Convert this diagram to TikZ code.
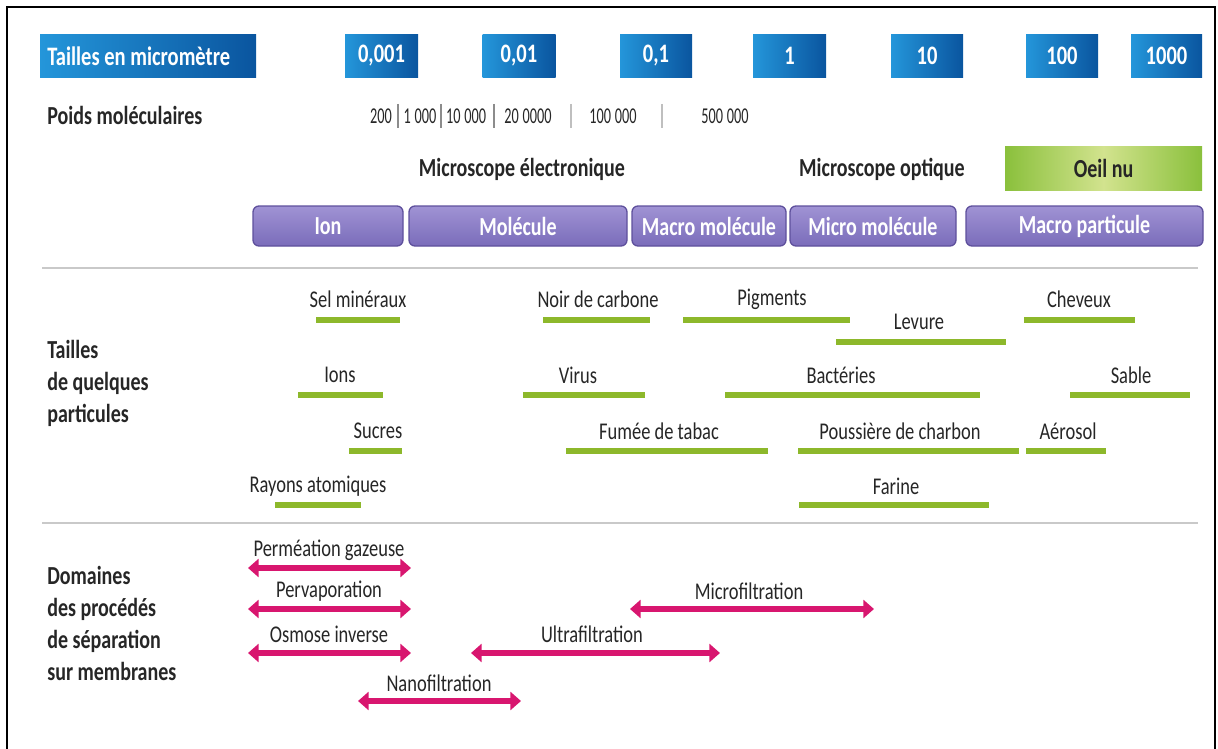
\documentclass[tikz,border=0pt]{standalone}
\usepackage{fontspec}
\setmainfont{Carlito}[FakeStretch=0.77]
\newfontfamily\numfont{Carlito}[FakeStretch=0.63]
\usetikzlibrary{arrows.meta}

\definecolor{ink}{HTML}{262626}
\definecolor{blueL}{HTML}{2496DA}
\definecolor{blueD}{HTML}{0A559F}
\definecolor{greenL}{HTML}{D2E38E}
\definecolor{greenD}{HTML}{8AC03C}
\definecolor{purpT}{HTML}{A093D4}
\definecolor{purpB}{HTML}{7A6CBA}
\definecolor{purpE}{HTML}{5E509C}
\definecolor{barG}{HTML}{8DB82B}
\definecolor{magenta}{HTML}{D8166F}
\definecolor{sepG}{HTML}{C9C9C9}

\tikzset{
  pxw/.style={minimum width=#1*0.75pt},
  pxh/.style={minimum height=#1*0.75pt},
  bluebox/.style={inner sep=0pt, pxh=43, left color=blueL, right color=blueD,
    text=white, font=\bfseries\fontsize{20}{22}\selectfont},
  purplebox/.style={inner sep=0pt, pxh=40, rounded corners=4.5pt,
    top color=purpT, bottom color=purpB, draw=purpE, line width=1pt,
    text=white, font=\bfseries\fontsize{19.5}{22}\selectfont},
  eyebox/.style={inner sep=0pt, pxh=44, left color=greenD, right color=greenD,
    middle color=greenL, text=ink, font=\bfseries\fontsize{19.5}{22}\selectfont},
  heading/.style={text=ink, inner sep=0pt, font=\bfseries\fontsize{19.5}{24}\selectfont},
  lbl/.style={text=ink, inner sep=0pt, font=\fontsize{18}{20}\selectfont},
  num/.style={text=ink, inner sep=0pt, font=\numfont\fontsize{17}{18}\selectfont},
  gbar/.style={draw=barG, line width=4.5pt},
  twoway/.style={draw=magenta, line width=3.8pt,
    {Triangle[length=8pt,width=13.5pt]}-{Triangle[length=8pt,width=13.5pt]}},
  seprule/.style={draw=sepG, line width=2pt},
  tick/.style={line width=0.8pt}
}

\begin{document}
\begin{tikzpicture}[x=0.75pt,y=-0.75pt]
\useasboundingbox (0,0) rectangle (1218,749);

% outer frame, open at the bottom
\draw[line width=2.2pt] (7,749) -- (7,7) -- (1215,7) -- (1215,749);

% size scale in micrometres
\node[bluebox, pxw=216] (scalebox) at (148,56) {};
\node[inner sep=0pt, text=white, font=\bfseries\fontsize{20}{22}\selectfont, anchor=west]
  (scale) at (47,56) {Tailles en micromètre};
\node[bluebox, pxw=73] (s1) at (381.5,56) {0,001};
\node[bluebox, pxw=73] (s2) at (519,56) {0,01};
\node[bluebox, pxw=72] (s3) at (656,56) {0,1};
\node[bluebox, pxw=73] (s4) at (789.5,56) {1};
\node[bluebox, pxw=72] (s5) at (927,56) {10};
\node[bluebox, pxw=72] (s6) at (1062,56) {100};
\node[bluebox, pxw=71] (s7) at (1166.5,56) {1000};

% molecular weights
\node[heading, anchor=west] (mw) at (47,115) {Poids moléculaires};
\node[num] (m1) at (381,116) {200};
\node[num] (m2) at (420,116) {1\,000};
\node[num] (m3) at (466,116) {10\,000};
\node[num] (m4) at (528,116) {20\,0000};
\node[num] (m5) at (613,116) {100\,000};
\node[num] (m6) at (725,116) {500\,000};
\foreach \xx/\cc in {398/black!45, 441/black!45, 494/black!45, 571/black!25, 662/black!25}
  \draw[tick, \cc] (\xx,104) -- (\xx,128);

% observation means
\node[heading] (me) at (522,169) {Microscope électronique};
\node[heading] (mo) at (882,169) {Microscope optique};
\node[eyebox, pxw=197] (eye) at (1103.5,168) {Oeil nu};

\node[purplebox, pxw=150] (ion) at (328,226) {Ion};
\node[purplebox, pxw=218] (mol) at (518,226) {Molécule};
\node[purplebox, pxw=154] (macm) at (709,226) {Macro molécule};
\node[purplebox, pxw=166] (micm) at (873,226) {Micro molécule};
\node[purplebox, pxw=237] (macp) at (1084.5,226) {Macro particule};

% section rules
\coordinate (r1a) at (42,268);  \coordinate (r1b) at (1198,268);
\coordinate (r2a) at (42,523);  \coordinate (r2b) at (1198,523);
\draw[seprule] (r1a) -- (r1b);
\draw[seprule] (r2a) -- (r2b);

% particle sizes
\node[heading, anchor=west, align=left] (tq) at (47,383) {Tailles\\de quelques\\particules};
\foreach \nm/\xa/\xb/\yb/\xt/\yt/\txt in {
  sel/316/400/320/358/299/Sel minéraux,
  noir/543/650/320/598/299/Noir de carbone,
  pig/683/850/320/772/299/Pigments,
  lev/836/1006/342/919/322/Levure,
  chev/1024/1135/320/1079/299/Cheveux,
  ions/298/383/395/340/375/Ions,
  vir/523/645/395/578/375/Virus,
  bact/725/980/395/841/375/Bactéries,
  sab/1070/1190/395/1131/375/Sable,
  suc/349/402/451/378/431/Sucres,
  fum/566/768/451/659/431/Fumée de tabac,
  pous/798/1019/451/900/431/Poussière de charbon,
  aer/1026/1106/451/1068/431/Aérosol,
  ray/275/361/505/318/486/Rayons atomiques,
  far/799/989/505/896/486/Farine}
{
  \node[lbl] (\nm) at (\xt,\yt) {\txt};
  \coordinate (\nm-a) at (\xa,\yb);
  \coordinate (\nm-b) at (\xb,\yb);
  \draw[gbar] (\nm-a) -- (\nm-b);
}

% membrane separation ranges
\node[heading, anchor=west, align=left] (dom) at (47,623) {Domaines\\des procédés\\de séparation\\sur membranes};
\foreach \nm/\xa/\xb/\yb/\xt/\yt/\txt in {
  pg/248/411/568/329/550/Perméation gazeuse,
  pv/248/411/609/329/591/Pervaporation,
  oi/248/411/653/329/634/Osmose inverse,
  nf/358/521/701/439/683/Nanofiltration,
  uf/471/720/653/592/634/Ultrafiltration,
  mf/630/874/609/749/591/Microfiltration}
{
  \node[lbl] (\nm) at (\xt,\yt) {\txt};
  \coordinate (\nm-a) at (\xa,\yb);
  \coordinate (\nm-b) at (\xb,\yb);
  \draw[twoway] (\nm-a) -- (\nm-b);
}
\end{tikzpicture}
\end{document}
